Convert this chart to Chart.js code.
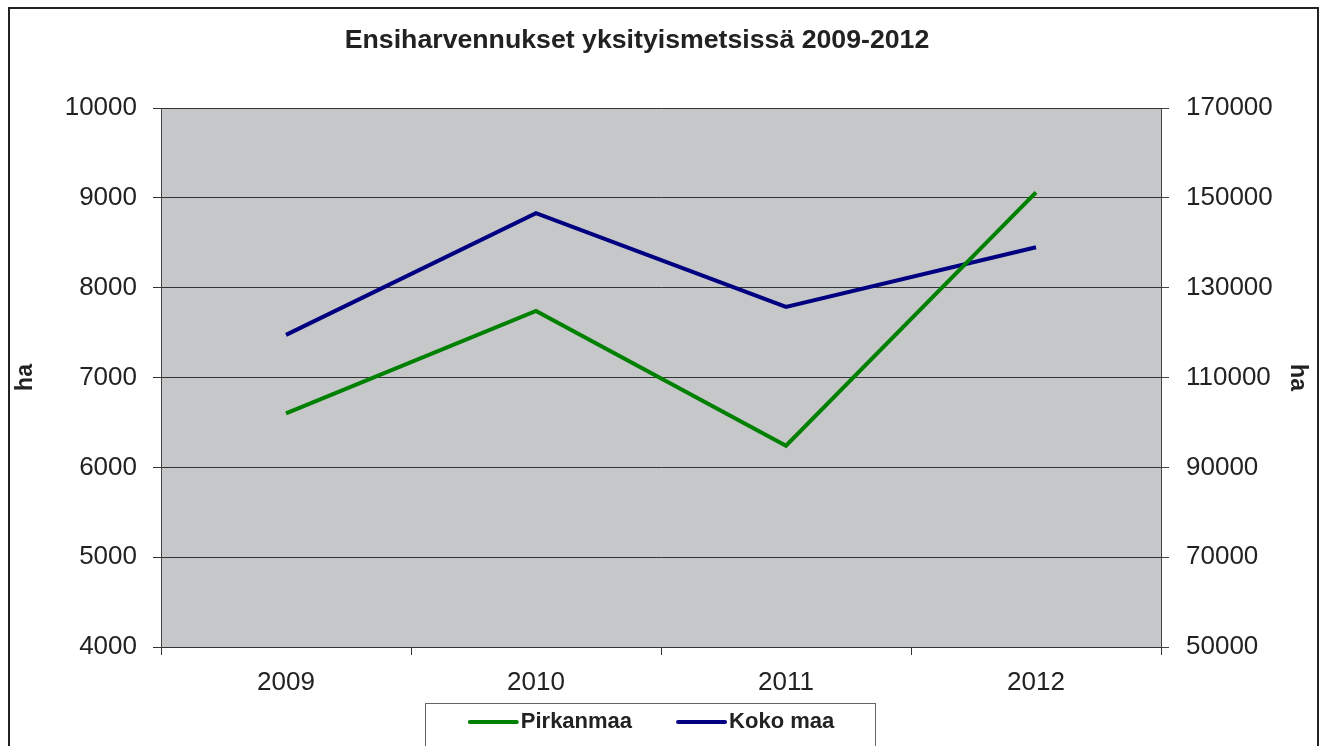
<!DOCTYPE html>
<html>
<head>
<meta charset="utf-8">
<script src="https://cdn.jsdelivr.net/npm/chart.js@4.4.0/dist/chart.umd.min.js"></script>
<style>
html,body{margin:0;padding:0;background:#fff;}
#wrap{width:1322px;height:746px;position:relative;}
</style>
</head>
<body>
<div id="wrap"><canvas id="c"></canvas></div>
<script>
const years = ['2009', '2010', '2011', '2012'];
const pirkanmaa = [6600, 7740, 6240, 9060];
const kokoMaa = [119500, 146600, 125700, 139000];
const leftTicks = [4000, 10000, 1000];
const rightTicks = [50000, 170000, 20000];
const chartTitle = 'Ensiharvennukset yksityismetsissä 2009-2012';
const axisTitle = 'ha';

const FONT = "'Liberation Sans', Arial, sans-serif";

const framePlugin = {
  id: 'frame',
  beforeDraw(chart) {
    const ctx = chart.ctx, a = chart.chartArea;
    ctx.save();
    ctx.fillStyle = '#fff';
    ctx.fillRect(0, 0, chart.width, chart.height);
    ctx.fillStyle = '#c6c7c9';
    ctx.fillRect(a.left, a.top, a.right - a.left, a.bottom - a.top);
    ctx.strokeStyle = '#222';
    ctx.lineWidth = 2;
    ctx.beginPath();
    ctx.moveTo(9, chart.height + 5);
    ctx.lineTo(9, 8);
    ctx.lineTo(1318, 8);
    ctx.lineTo(1318, chart.height + 5);
    ctx.stroke();
    ctx.fillStyle = '#222';
    ctx.font = 'bold 26.7px ' + FONT;
    ctx.textAlign = 'center';
    ctx.textBaseline = 'middle';
    ctx.fillText(chartTitle, 637, 41);
    ctx.restore();
  },
  afterDraw(chart) {
    const ctx = chart.ctx;
    ctx.save();
    ctx.font = 'bold 22px ' + FONT;
    const ds = chart.data.datasets;
    const lineW = 47, gapT = 4, gapI = 46;
    let widths = ds.map(d => lineW + gapT + ctx.measureText(d.label).width);
    let total = widths.reduce((s, w) => s + w, 0) + gapI * (ds.length - 1);
    const cx = 652;
    let x = cx - total / 2;
    const y = 722;
    ctx.strokeStyle = '#666';
    ctx.lineWidth = 1;
    const bx = Math.round(cx - total / 2 - 45);
    ctx.strokeRect(bx + 0.5, 703.5, Math.round(total + 86), 60);
    ds.forEach((d, i) => {
      ctx.strokeStyle = d.borderColor;
      ctx.lineWidth = 4;
      ctx.lineCap = 'round';
      ctx.beginPath();
      ctx.moveTo(x, y);
      ctx.lineTo(x + lineW, y);
      ctx.stroke();
      ctx.fillStyle = '#222';
      ctx.textAlign = 'left';
      ctx.textBaseline = 'middle';
      ctx.fillText(d.label, x + lineW + gapT, y);
      x += widths[i] + gapI;
    });
    ctx.restore();
  }
};

const plain = v => String(v);

new Chart(document.getElementById('c'), {
  type: 'line',
  data: {
    labels: years,
    datasets: [
      { label: 'Pirkanmaa', data: pirkanmaa, borderColor: '#008000', backgroundColor: '#008000', borderWidth: 4, pointRadius: 0, tension: 0, yAxisID: 'y' },
      { label: 'Koko maa', data: kokoMaa, borderColor: '#000080', backgroundColor: '#000080', borderWidth: 4, pointRadius: 0, tension: 0, yAxisID: 'y1' }
    ]
  },
  options: {
    responsive: true,
    maintainAspectRatio: false,
    animation: false,
    layout: { padding: { top: 108, bottom: 50, left: 12, right: 11 } },
    plugins: {
      legend: { display: false },
      title: { display: false },
      tooltip: { enabled: false }
    },
    scales: {
      x: {
        offset: true,
        afterFit(s) { s.height = 49; },
        grid: { offset: true, drawOnChartArea: false, drawTicks: true, tickLength: 8, color: '#333' },
        border: { color: '#333', width: 1 },
        ticks: { color: '#222', font: { family: FONT, size: 26 }, padding: 12 }
      },
      y: {
        position: 'left',
        min: leftTicks[0], max: leftTicks[1],
        afterFit(s) { s.width = 149; },
        grid: { color: '#333', lineWidth: 1, tickLength: 8, drawTicks: true },
        border: { color: '#444', width: 1 },
        ticks: { stepSize: leftTicks[2], color: '#222', font: { family: FONT, size: 26 }, padding: 16, callback: plain },
        title: { display: true, text: axisTitle, color: '#222', font: { family: FONT, size: 23, weight: 'bold' }, padding: 0 }
      },
      y1: {
        position: 'right',
        min: rightTicks[0], max: rightTicks[1],
        afterFit(s) { s.width = 150; },
        grid: { drawOnChartArea: false, color: '#444', tickLength: 8, drawTicks: true },
        border: { color: '#444', width: 1 },
        ticks: { stepSize: rightTicks[2], color: '#222', font: { family: FONT, size: 26 }, padding: 17, callback: plain },
        title: { display: true, text: axisTitle, color: '#222', font: { family: FONT, size: 23, weight: 'bold' }, padding: 0 }
      }
    }
  },
  plugins: [framePlugin]
});
</script>
</body>
</html>
